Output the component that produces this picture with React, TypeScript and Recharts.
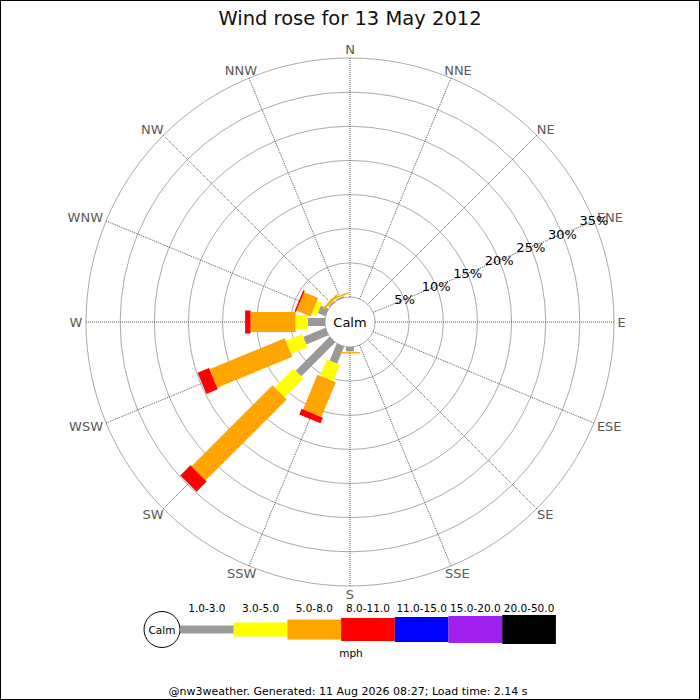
import React from 'react';
import { RadarChart, Radar, PolarGrid, PolarAngleAxis, PolarRadiusAxis } from 'recharts';

// ---- data ----
const DIRECTIONS = ['N', 'NNE', 'NE', 'ENE', 'E', 'ESE', 'SE', 'SSE', 'S', 'SSW', 'SW', 'WSW', 'W', 'WNW', 'NW', 'NNW'];
const BAND_LABELS = ['1.0-3.0', '3.0-5.0', '5.0-8.0', '8.0-11.0', '11.0-15.0', '15.0-20.0', '20.0-50.0'];
const BAND_COLORS = ['#999999', '#ffff00', '#ffa500', '#ff0000', '#0000ff', '#a020f0', '#000000'];
const RING_TICKS = [0, 5, 10, 15, 20, 25, 30, 35];

// percent of time per direction (N..NNW) for each speed band (mph)
const SPEED_1_3 = [0, 0, 0, 0, 0, 0, 0, 0, 0.65, 2.7, 7.0, 3.5, 2.5, 1.2, 0.2, 0.2];
const SPEED_3_5 = [0, 0, 0, 0, 0, 0, 0, 0, 0.1, 2.6, 3.9, 2.6, 1.8, 0.8, 0.1, 0.1];
const SPEED_5_8 = [0, 0, 0, 0, 0, 0, 0, 0, 0.2, 5.5, 16.8, 11.9, 6.6, 2.2, 0.3, 0.2];
const SPEED_8_11 = [0, 0, 0, 0, 0, 0, 0, 0, 0, 0.9, 2.1, 1.8, 0.8, 0.25, 0, 0];
const SPEED_11_15 = [0, 0, 0, 0, 0, 0, 0, 0, 0, 0, 0, 0, 0, 0, 0, 0];
const SPEED_15_20 = [0, 0, 0, 0, 0, 0, 0, 0, 0, 0, 0, 0, 0, 0, 0, 0];
const SPEED_20_50 = [0, 0, 0, 0, 0, 0, 0, 0, 0, 0, 0, 0, 0, 0, 0, 0];

const TITLE = 'Wind rose for 13 May 2012';
const FOOTER = '@nw3weather. Generated: 11 Aug 2026 08:27; Load time: 2.14 s';
const UNIT = 'mph';

// ---- styling ----
const BAND_THICKNESS = [8, 14, 20, 23, 25, 27, 29];
const FONT = '"DejaVu Sans", Verdana, sans-serif';
const DIR_FONT_SIZE = 13;
// approximate DejaVu Sans advance widths (em) for direction letters
const GLYPH_EM: Record<string, number> = { N: 0.748, E: 0.632, S: 0.635, W: 0.989 };

const BANDS = [SPEED_1_3, SPEED_3_5, SPEED_5_8, SPEED_8_11, SPEED_11_15, SPEED_15_20, SPEED_20_50];

// stacked ranges [lo, hi] per band for each direction
const tableData = DIRECTIONS.map((dir, i) => {
  const row: any = { dir };
  let acc = 0;
  BANDS.forEach((band, b) => {
    const lo = acc;
    acc += band[i];
    row['b' + b] = [lo, acc];
  });
  return row;
});

function fallbackInner(points: any[]) {
  const pairs = points
    .filter((p) => p && Array.isArray(p.value) && Number.isFinite(p.radius))
    .map((p) => [p.value[1], p.radius]);
  let a = 0;
  let b = 0;
  for (let i = 0; i < pairs.length; i++) {
    for (let j = i + 1; j < pairs.length; j++) {
      if (Math.abs(pairs[i][0] - pairs[j][0]) > 1e-9) {
        a = (pairs[i][1] - pairs[j][1]) / (pairs[i][0] - pairs[j][0]);
        b = pairs[i][1] - a * pairs[i][0];
        i = pairs.length;
        break;
      }
    }
  }
  return points.map((p) => {
    const lo = Array.isArray(p.value) ? p.value[0] : 0;
    const r = a * lo + b;
    const th = (p.angle * Math.PI) / 180;
    return { radius: r, x: p.cx + Math.cos(th) * r, y: p.cy - Math.sin(th) * r };
  });
}

function makeBandShape(thickness: number, color: string) {
  return (props: any) => {
    const points: any[] = props.points || [];
    const base = props.baseLinePoints;
    const inner = Array.isArray(base) && base.length === points.length ? base : fallbackInner(points);
    return (
      <g>
        {points.map((p, i) => {
          const q = inner[i];
          if (!p || !q) return null;
          const len = p.radius - q.radius;
          if (!(len > 0.05)) return null;
          const th = (p.angle * Math.PI) / 180;
          const nx = (Math.sin(th) * thickness) / 2;
          const ny = (Math.cos(th) * thickness) / 2;
          const d = `M${q.x + nx},${q.y + ny}L${p.x + nx},${p.y + ny}L${p.x - nx},${p.y - ny}L${q.x - nx},${q.y - ny}Z`;
          return <path key={i} d={d} fill={color} stroke="none" />;
        })}
      </g>
    );
  };
}

const AngleTick = (props: any) => {
  const { x, y, payload } = props;
  const label = String(payload.value);
  const w = label.split('').reduce((s, c) => s + (GLYPH_EM[c] || 0.7), 0) * DIR_FONT_SIZE;
  const h = DIR_FONT_SIZE * 0.73;
  const th = ((payload.coordinate || 0) * Math.PI) / 180;
  const ux = Math.cos(th);
  const uy = -Math.sin(th);
  const k = 1.1;
  const tx = x + ux * (k * w) / 2;
  const ty = y + uy * (k * h) / 2;
  return (
    <text x={tx} y={ty} textAnchor="middle" dominantBaseline="central" fontFamily={FONT} fontSize={DIR_FONT_SIZE} fill="#5a5a5a">
      {label}
    </text>
  );
};

const RadiusTick = (props: any) => {
  const { x, y, payload } = props;
  if (!payload || payload.value === 0) return null;
  return (
    <text x={x} y={y} textAnchor="middle" dominantBaseline="central" fontFamily={FONT} fontSize={13} fill="#000">
      {payload.value + '%'}
    </text>
  );
};

const LEG_X0 = 180;
const LEG_W = 53.7;
const LEG_CY = 629.5;

export default function App() {
  return (
    <div style={{ position: 'absolute', left: 0, top: 0, width: 700, height: 700, background: '#fff' }}>
      <div style={{ position: 'absolute', left: 0, top: 0 }}>
        <RadarChart
          width={700}
          height={700}
          data={tableData}
          cx={350}
          cy={322}
          innerRadius={25}
          outerRadius={264}
          margin={{ top: 0, right: 0, bottom: 0, left: 0 }}
        >
          <PolarGrid gridType="circle" radialLines={false} stroke="#aaaaaa" strokeWidth={1} />
          <PolarGrid gridType="circle" polarRadius={[]} radialLines={true} stroke="#555555" strokeWidth={1} strokeDasharray="1 1" />
          <PolarAngleAxis dataKey="dir" tick={<AngleTick />} tickLine={false} axisLine={false} tickSize={3} />
          {BAND_LABELS.map((label, b) => (
            <Radar
              key={label}
              name={label}
              dataKey={'b' + b}
              isAnimationActive={false}
              fill={BAND_COLORS[b]}
              stroke="none"
              dot={false}
              shape={makeBandShape(BAND_THICKNESS[b], BAND_COLORS[b])}
            />
          ))}
          <PolarRadiusAxis
            angle={22.5}
            type="number"
            domain={[0, 35]}
            ticks={RING_TICKS}
            tickCount={8}
            axisLine={false}
            tickLine={false}
            tick={<RadiusTick />}
          />
        </RadarChart>
      </div>
      <svg
        width={700}
        height={700}
        style={{ position: 'absolute', left: 0, top: 0, pointerEvents: 'none' }}
        fontFamily={FONT}
      >
        <rect x={0.5} y={0.5} width={699} height={699} fill="none" stroke="#000" strokeWidth={1} />
        <text x={350} y={25} textAnchor="middle" fontSize={19.5} fill="#111">
          {TITLE}
        </text>
        <text x={350} y={322} textAnchor="middle" dominantBaseline="central" fontSize={13} fill="#000">
          Calm
        </text>
        {/* legend */}
        <circle cx={162} cy={LEG_CY} r={18} fill="#fff" stroke="#000" strokeWidth={1} />
        <text x={162} y={LEG_CY} textAnchor="middle" dominantBaseline="central" fontSize={10.5} fill="#000">
          Calm
        </text>
        {BAND_LABELS.map((label, b) => (
          <g key={label}>
            <rect
              x={LEG_X0 + b * LEG_W}
              y={LEG_CY - BAND_THICKNESS[b] / 2}
              width={LEG_W}
              height={BAND_THICKNESS[b]}
              fill={BAND_COLORS[b]}
            />
            <text x={LEG_X0 + b * LEG_W + LEG_W / 2} y={611.5} textAnchor="middle" fontSize={10.5} fill="#000">
              {label}
            </text>
          </g>
        ))}
        <text x={351} y={657} textAnchor="middle" fontSize={10.5} fill="#000">
          {UNIT}
        </text>
        <text x={348} y={695} textAnchor="middle" fontSize={11} fill="#000">
          {FOOTER}
        </text>
      </svg>
    </div>
  );
}
